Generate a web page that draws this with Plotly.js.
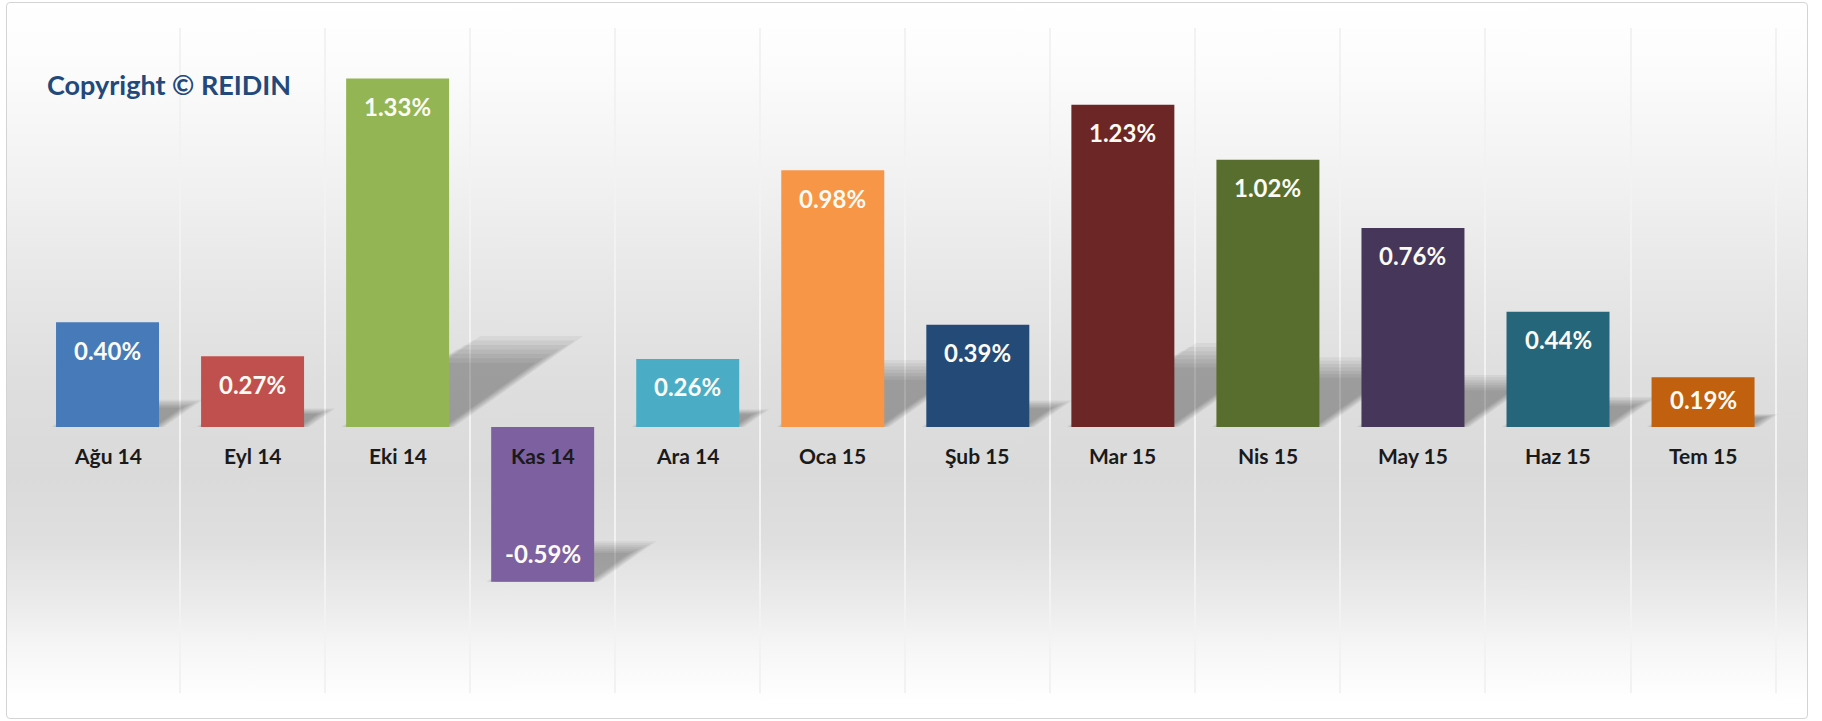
<!DOCTYPE html>
<html>
<head>
<meta charset="utf-8">
<script src="https://cdn.plot.ly/plotly-3.0.1.min.js"></script>
<style>
  html, body { margin: 0; padding: 0; background: #ffffff; }
  #frame {
    position: absolute; left: 6px; top: 2px; width: 1802px; height: 717px;
    border: 1px solid #d4d4d4; border-radius: 4px; box-sizing: border-box;
    background: linear-gradient(to bottom, #ffffff 0px, #fcfcfc 60px, #f3f3f3 160px, #e7e7e7 280px,
      #dedede 380px, #dadada 470px, #dfdfdf 540px, #ebebeb 600px, #f7f7f7 650px, #ffffff 700px);
  }
  #chart { position: absolute; left: 0; top: 0; width: 1822px; height: 721px; }
</style>
</head>
<body>
<div id="frame"></div>
<div id="chart"></div>
<script>
const categories = ['Ağu 14','Eyl 14','Eki 14','Kas 14','Ara 14','Oca 15','Şub 15','Mar 15','Nis 15','May 15','Haz 15','Tem 15'];
const values = [0.40, 0.27, 1.33, -0.59, 0.26, 0.98, 0.39, 1.23, 1.02, 0.76, 0.44, 0.19];
const barColors = ['#467ab8','#c0504d','#94b553','#7d60a0','#4bacc6','#f79646',
                   '#244a77','#6c2626','#586e2e','#463659','#26667a','#c1600e'];
const watermark = 'Copyright © REIDIN';

const W = 1822, H = 721;
const margin = {l: 35, r: 44, t: 28, b: 28};
const yRange = [-1.015, 1.523];
const plotH = H - margin.t - margin.b;
const pxPerUnit = plotH / (yRange[1] - yRange[0]);
const catPx = (W - margin.l - margin.r) / categories.length;

const barGap = 0.29;
const halfW = (1 - barGap) / 2;

// soft diagonal shadows, derived from the data values
const shapes = [];
const layers = 7;
values.forEach((v, i) => {
  const hpx = Math.abs(v) * pxPerUnit;
  const yb = Math.min(0, v);
  for (let k = 0; k < layers; k++) {
    const t = k / (layers - 1);          // 0..1
    const f = 0.82 + 0.34 * t;
    const dxPx = -5 + 10 * t;
    const sx = 0.32 * hpx * f / catPx;
    const rise = 0.225 * hpx * f / pxPerUnit;
    const dx = dxPx / catPx;
    const L = i - halfW + dx, R = i + halfW + dx;
    shapes.push({
      type: 'path', xref: 'x', yref: 'y', layer: 'between',
      path: `M ${L} ${yb} L ${R} ${yb} L ${R + sx} ${yb + rise} L ${L + sx} ${yb + rise} Z`,
      fillcolor: 'rgba(0,0,0,0.048)', line: {width: 0}
    });
  }
});

const annotations = [];
categories.forEach((c, i) => {
  annotations.push({
    x: c, y: 0, xref: 'x', yref: 'y', text: c, showarrow: false,
    yanchor: 'middle', yshift: -28,
    font: {family: 'Lato', size: 21, weight: 700, color: '#1a1a1a'}
  });
  const v = values[i];
  const hpx = Math.abs(v) * pxPerUnit;
  const off = Math.min(28, hpx / 2 - 3);
  annotations.push({
    x: c, y: v, xref: 'x', yref: 'y', text: v.toFixed(2) + '%', showarrow: false,
    yanchor: 'middle', yshift: v >= 0 ? -off : off,
    font: {family: 'Lato', size: 24, weight: 700, color: '#fbfbf4'}
  });
});
annotations.push({
  xref: 'paper', yref: 'paper', x: (45 - margin.l) / (W - margin.l - margin.r),
  y: (H - margin.b - 84) / plotH, xanchor: 'left', yanchor: 'middle',
  text: watermark, showarrow: false,
  font: {family: 'Lato', size: 27, weight: 700, color: '#23487a'}
});

const trace = {
  type: 'bar', x: categories, y: values,
  marker: {color: barColors, line: {width: 0}},
  hoverinfo: 'skip'
};

const layout = {
  width: W, height: H, margin: margin,
  paper_bgcolor: 'rgba(0,0,0,0)', plot_bgcolor: 'rgba(0,0,0,0)',
  showlegend: false, bargap: barGap,
  xaxis: {type: 'category', tickson: 'boundaries', showgrid: true, gridcolor: '#f2f2f2', gridwidth: 2,
          showticklabels: false, ticks: '', zeroline: false, showline: false, fixedrange: true},
  yaxis: {range: yRange, showgrid: false, zeroline: false, showticklabels: false, ticks: '', fixedrange: true},
  shapes: shapes, annotations: annotations
};

Plotly.newPlot('chart', [trace], layout, {displayModeBar: false, staticPlot: true});
</script>
</body>
</html>
